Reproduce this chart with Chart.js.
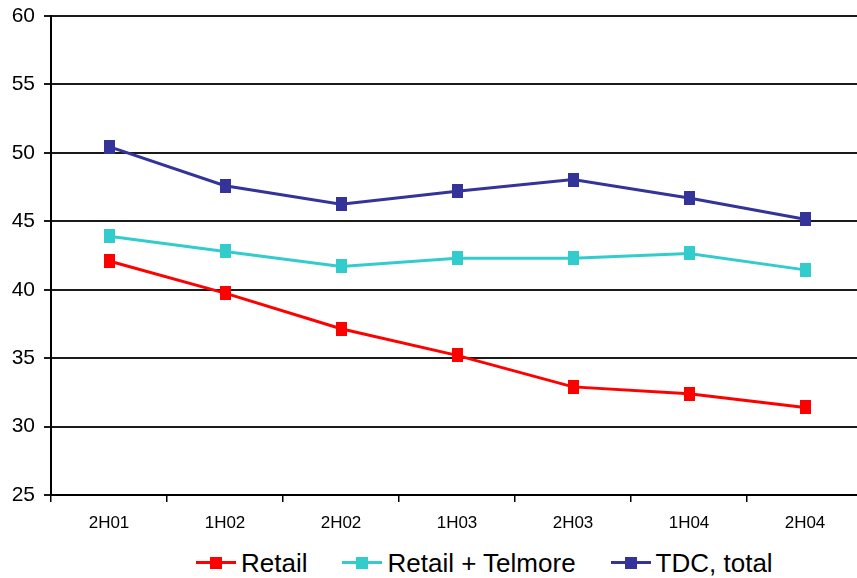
<!DOCTYPE html>
<html>
<head>
<meta charset="utf-8">
<script src="https://cdn.jsdelivr.net/npm/chart.js@4/dist/chart.umd.min.js"></script>
<style>
    body {
        margin: 0;
        overflow: hidden;
        background: #ffffff;
        width: 857px;
        height: 578px;
        position: relative;
        font-family: "Liberation Sans", Arial, sans-serif;
    }
    #chart {
        position: absolute;
        left: 0;
        top: 0;
    }
    #legend {
        position: absolute;
        left: 196px;
        top: 548px;
        display: flex;
        gap: 35px;
        font-size: 26px;
        line-height: 30px;
        color: #000;
    }
    .item {
        display: flex;
        align-items: center;
        gap: 5px;
    }
    .swatch {
        position: relative;
        width: 40px;
        height: 14px;
    }
    .swatch .line {
        position: absolute;
        left: 0;
        right: 0;
        top: 5px;
        height: 3px;
    }
    .swatch .box {
        position: absolute;
        left: 14px;
        top: 1px;
        width: 12px;
        height: 12px;
    }
</style>
</head>
<body>
<canvas id="chart" width="880" height="540"></canvas>
<div id="legend"></div>

<script>
const periods = ["2H01", "1H02", "2H02", "1H03", "2H03", "1H04", "2H04"];

const seriesNames = ["Retail", "Retail + Telmore", "TDC, total"];
const seriesColors = ["#ff0000", "#33cccc", "#333399"];

const retail = [42.1, 39.75, 37.15, 35.2, 32.9, 32.4, 31.4];
const retailTelmore = [43.9, 42.8, 41.7, 42.3, 42.3, 42.65, 41.45];
const tdcTotal = [50.45, 47.6, 46.25, 47.2, 48.05, 46.7, 45.15];

const yTicks = [25, 30, 35, 40, 45, 50, 55, 60];

// small tall square used as marker (like the Excel original)
function makeMarker(color) {
    const c = document.createElement("canvas");
    c.width = 11;
    c.height = 14;
    const g = c.getContext("2d");
    g.fillStyle = color;
    g.fillRect(0, 0, 11, 14);
    return c;
}

const seriesValues = [retail, retailTelmore, tdcTotal];

const datasets = seriesValues.map((values, i) => ({
    label: seriesNames[i],
    data: values,
    borderColor: seriesColors[i],
    backgroundColor: seriesColors[i],
    borderWidth: 3,
    pointStyle: makeMarker(seriesColors[i]),
    pointRadius: 6,
    tension: 0
}));

const ctx = document.getElementById("chart").getContext("2d");

new Chart(ctx, {
    type: "line",
    data: {
        labels: periods,
        datasets: datasets
    },
    options: {
        responsive: false,
        animation: false,
        layout: {
            padding: { top: 16, right: 17, bottom: 0, left: 0 }
        },
        plugins: {
            legend: { display: false },
            tooltip: { enabled: false }
        },
        scales: {
            x: {
                offset: true,
                grid: {
                    offset: true,
                    drawOnChartArea: false,
                    drawTicks: true,
                    tickLength: 7,
                    color: "#000",
                    lineWidth: 1.5
                },
                border: { display: true, color: "#000", width: 2 },
                ticks: {
                    color: "#000",
                    padding: 11,
                    maxRotation: 0,
                    font: { family: "Liberation Sans", size: 17 }
                },
                afterFit: function(scale) {
                    scale.height = 45;
                }
            },
            y: {
                min: 25,
                max: 60,
                afterBuildTicks: function(scale) {
                    scale.ticks = yTicks.map(v => ({ value: v }));
                },
                grid: {
                    color: "#1a1a1a",
                    lineWidth: 2,
                    drawTicks: true,
                    tickLength: 7
                },
                border: { display: true, color: "#000", width: 2 },
                ticks: {
                    color: "#000",
                    padding: 9,
                    font: { family: "Liberation Sans", size: 21 }
                },
                afterFit: function(scale) {
                    scale.width = 51;
                    scale.paddingTop = 0;
                    scale.paddingBottom = 0;
                }
            }
        }
    }
});

// legend: line with square marker, like the original
const legend = document.getElementById("legend");
seriesNames.forEach((name, i) => {
    const item = document.createElement("div");
    item.className = "item";
    item.innerHTML = `
        <span class="swatch">
            <span class="line" style="background:${seriesColors[i]}"></span>
            <span class="box" style="background:${seriesColors[i]}"></span>
        </span>
        <span>${name}</span>
    `;
    legend.appendChild(item);
});
</script>
</body>
</html>
